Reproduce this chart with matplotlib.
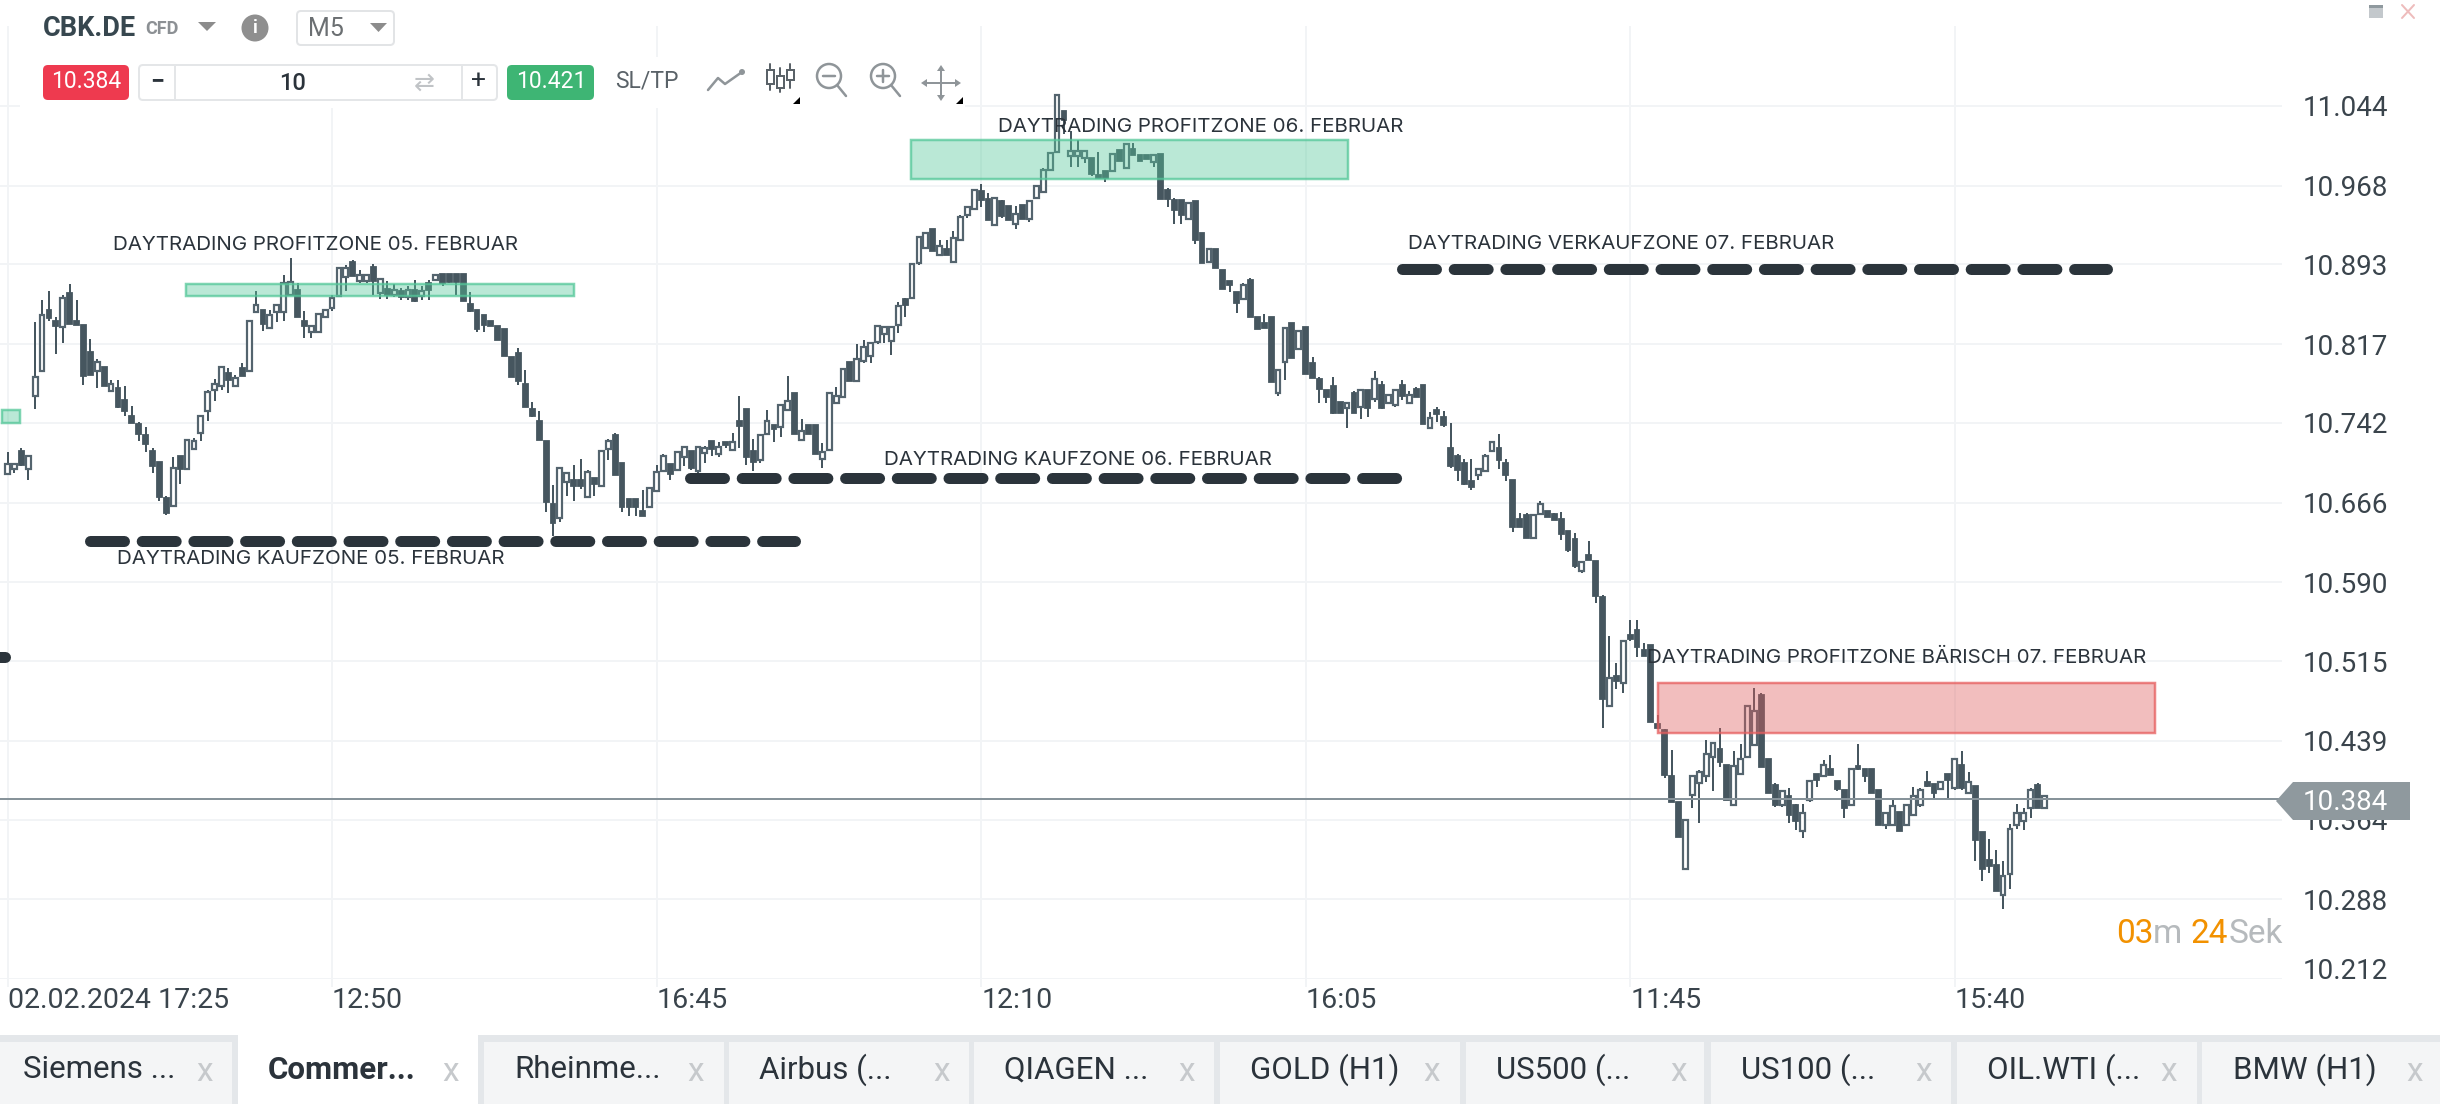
import matplotlib
matplotlib.use("Agg")
import matplotlib.pyplot as plt
from matplotlib.patches import Rectangle, FancyBboxPatch, Circle, Polygon

plt.rcParams['font.family'] = ['Roboto', 'DejaVu Sans']

# ---------- data ----------
open_ = [
 10.693,10.698,10.715,10.698,10.768,10.791,10.850,10.839,10.833,10.866,
 10.839,10.835,10.810,10.791,10.795,10.772,10.775,10.764,10.749,10.741,
 10.730,10.715,10.705,10.670,10.663,10.710,10.698,10.717,10.732,10.753,
 10.773,10.777,10.790,10.777,10.794,10.791,10.848,10.850,10.832,10.848,
 10.848,10.864,10.869,10.839,10.829,10.829,10.843,10.851,10.863,10.881,
 10.895,10.877,10.877,10.891,10.866,10.870,10.864,10.868,10.862,10.869,
 10.863,10.875,10.878,10.884,10.884,10.884,10.884,10.855,10.850,10.845,
 10.839,10.834,10.831,10.805,10.809,10.779,10.755,10.744,10.725,10.665,
 10.651,10.686,10.688,10.688,10.671,10.689,10.682,10.717,10.730,10.704,
 10.669,10.669,10.658,10.662,10.677,10.696,10.703,10.697,10.709,10.715,
 10.696,10.713,10.725,10.712,10.724,10.716,10.744,10.755,10.715,10.707,
 10.731,10.740,10.738,10.754,10.770,10.726,10.740,10.740,10.708,10.716,
 10.761,10.767,10.800,10.782,10.801,10.806,10.819,10.827,10.820,10.835,
 10.860,10.861,10.894,10.909,10.927,10.902,10.908,10.895,10.916,10.940,
 10.946,10.963,10.955,10.931,10.953,10.949,10.932,10.950,10.936,10.956,
 10.962,10.983,11.000,11.039,10.996,10.996,10.994,10.994,10.978,10.982,
 10.982,11.002,10.985,11.003,10.997,10.997,10.991,10.998,10.964,10.954,
 10.954,10.936,10.953,10.923,10.895,10.908,10.888,10.877,10.867,10.860,
 10.878,10.843,10.837,10.843,10.770,10.800,10.837,10.812,10.833,10.799,
 10.784,10.773,10.777,10.762,10.756,10.770,10.757,10.773,10.765,10.778,
 10.761,10.759,10.778,10.761,10.774,10.778,10.737,10.754,10.748,10.718,
 10.710,10.704,10.687,10.692,10.696,10.715,10.718,10.704,10.688,10.650,
 10.654,10.632,10.655,10.658,10.655,10.650,10.639,10.631,10.601,10.616,
 10.610,10.576,10.472,10.501,10.494,10.540,10.545,10.526,10.530,10.455,
 10.449,10.405,10.381,10.317,10.387,10.399,10.405,10.424,10.431,10.416,
 10.378,10.407,10.424,10.435,10.483,10.422,10.397,10.378,10.386,10.378,
 10.353,10.383,10.407,10.405,10.412,10.401,10.392,10.378,10.415,10.412,
 10.412,10.392,10.359,10.359,10.371,10.359,10.368,10.378,10.400,10.398,
 10.393,10.407,10.394,10.416,10.389,10.396,10.352,10.325,10.321,10.292,
 10.312,10.359,10.363,10.375,10.397,10.375]
high = [
 10.714,10.703,10.718,10.710,10.838,10.859,10.868,10.843,10.864,10.874,
 10.859,10.835,10.822,10.803,10.795,10.783,10.783,10.777,10.758,10.743,
 10.738,10.718,10.705,10.672,10.709,10.710,10.726,10.728,10.749,10.773,
 10.784,10.795,10.794,10.788,10.799,10.839,10.868,10.850,10.850,10.854,
 10.883,10.899,10.875,10.849,10.834,10.846,10.850,10.864,10.890,10.892,
 10.897,10.888,10.883,10.893,10.879,10.877,10.874,10.871,10.872,10.878,
 10.872,10.878,10.884,10.884,10.884,10.884,10.884,10.867,10.850,10.845,
 10.839,10.834,10.831,10.805,10.813,10.792,10.762,10.753,10.725,10.683,
 10.699,10.695,10.702,10.708,10.697,10.689,10.715,10.727,10.732,10.704,
 10.669,10.669,10.678,10.680,10.702,10.712,10.703,10.714,10.719,10.715,
 10.719,10.720,10.725,10.724,10.724,10.732,10.768,10.755,10.727,10.730,
 10.754,10.740,10.759,10.787,10.770,10.746,10.740,10.740,10.723,10.770,
 10.776,10.793,10.800,10.817,10.821,10.818,10.834,10.833,10.833,10.857,
 10.861,10.893,10.919,10.923,10.927,10.916,10.916,10.925,10.940,10.948,
 10.965,10.970,10.961,10.956,10.954,10.949,10.949,10.950,10.953,10.968,
 10.985,11.000,11.054,11.039,11.020,11.012,11.001,10.994,11.000,10.982,
 10.998,11.002,11.008,11.009,10.997,10.997,10.997,10.998,10.966,10.956,
 10.954,10.952,10.953,10.923,10.908,10.908,10.888,10.877,10.867,10.875,
 10.880,10.843,10.846,10.843,10.792,10.832,10.837,10.830,10.833,10.805,
 10.786,10.773,10.786,10.762,10.762,10.772,10.773,10.773,10.791,10.782,
 10.769,10.773,10.783,10.772,10.776,10.778,10.752,10.757,10.753,10.742,
 10.712,10.708,10.708,10.699,10.712,10.724,10.731,10.708,10.688,10.656,
 10.656,10.654,10.668,10.658,10.656,10.657,10.639,10.637,10.609,10.629,
 10.610,10.578,10.539,10.513,10.534,10.554,10.554,10.532,10.530,10.464,
 10.450,10.430,10.381,10.364,10.405,10.411,10.440,10.437,10.451,10.416,
 10.429,10.436,10.472,10.489,10.485,10.422,10.399,10.391,10.394,10.379,
 10.379,10.401,10.407,10.421,10.425,10.401,10.392,10.412,10.436,10.412,
 10.412,10.392,10.370,10.384,10.371,10.379,10.395,10.394,10.410,10.398,
 10.400,10.407,10.422,10.429,10.409,10.396,10.352,10.345,10.335,10.324,
 10.360,10.379,10.375,10.394,10.399,10.386]
low = [
 10.693,10.694,10.701,10.688,10.755,10.791,10.839,10.808,10.818,10.836,
 10.835,10.778,10.788,10.775,10.777,10.772,10.756,10.749,10.742,10.725,
 10.714,10.694,10.668,10.654,10.663,10.684,10.698,10.717,10.725,10.744,
 10.763,10.773,10.770,10.777,10.787,10.791,10.848,10.830,10.831,10.838,
 10.839,10.864,10.843,10.823,10.823,10.829,10.843,10.849,10.863,10.868,
 10.882,10.875,10.875,10.864,10.860,10.860,10.862,10.859,10.859,10.857,
 10.859,10.859,10.878,10.872,10.875,10.864,10.858,10.848,10.829,10.829,
 10.834,10.821,10.806,10.786,10.778,10.757,10.748,10.726,10.657,10.634,
 10.648,10.672,10.668,10.679,10.671,10.672,10.682,10.707,10.692,10.657,
 10.653,10.653,10.653,10.662,10.677,10.695,10.688,10.697,10.701,10.697,
 10.693,10.704,10.710,10.709,10.718,10.716,10.718,10.702,10.696,10.704,
 10.730,10.724,10.729,10.754,10.731,10.726,10.731,10.712,10.699,10.716,
 10.761,10.767,10.782,10.782,10.799,10.799,10.817,10.818,10.807,10.828,
 10.843,10.861,10.892,10.909,10.906,10.901,10.902,10.895,10.916,10.937,
 10.946,10.948,10.935,10.931,10.937,10.935,10.927,10.936,10.933,10.956,
 10.962,10.982,11.000,11.017,10.986,10.986,10.990,10.977,10.975,10.972,
 10.982,10.992,10.985,10.997,10.992,10.993,10.986,10.955,10.948,10.932,
 10.932,10.936,10.912,10.894,10.895,10.890,10.870,10.867,10.847,10.859,
 10.843,10.831,10.832,10.781,10.768,10.783,10.804,10.812,10.789,10.785,
 10.761,10.761,10.750,10.751,10.737,10.751,10.746,10.748,10.762,10.755,
 10.761,10.757,10.764,10.761,10.767,10.741,10.737,10.743,10.738,10.699,
 10.687,10.683,10.678,10.688,10.696,10.715,10.698,10.687,10.638,10.643,
 10.632,10.632,10.654,10.652,10.649,10.630,10.619,10.604,10.599,10.611,
 10.570,10.451,10.472,10.488,10.485,10.534,10.519,10.520,10.457,10.450,
 10.404,10.381,10.347,10.317,10.375,10.361,10.400,10.391,10.414,10.383,
 10.378,10.406,10.424,10.435,10.414,10.389,10.376,10.376,10.361,10.354,
 10.346,10.381,10.395,10.405,10.406,10.391,10.365,10.378,10.411,10.400,
 10.389,10.359,10.355,10.359,10.353,10.359,10.368,10.376,10.395,10.384,
 10.393,10.384,10.392,10.392,10.389,10.324,10.305,10.313,10.296,10.279,
 10.298,10.355,10.354,10.365,10.375,10.375]
close = [
 10.703,10.703,10.702,10.710,10.786,10.845,10.842,10.834,10.861,10.836,
 10.835,10.787,10.788,10.800,10.777,10.779,10.757,10.753,10.742,10.731,
 10.722,10.701,10.671,10.656,10.699,10.698,10.726,10.725,10.749,10.771,
 10.779,10.795,10.783,10.785,10.787,10.839,10.854,10.836,10.845,10.854,
 10.875,10.876,10.843,10.834,10.834,10.846,10.850,10.861,10.890,10.890,
 10.882,10.883,10.883,10.877,10.879,10.864,10.869,10.862,10.869,10.858,
 10.868,10.869,10.883,10.875,10.876,10.876,10.858,10.849,10.831,10.835,
 10.834,10.821,10.806,10.786,10.782,10.757,10.749,10.726,10.667,10.647,
 10.699,10.694,10.682,10.682,10.695,10.684,10.715,10.725,10.692,10.662,
 10.662,10.662,10.653,10.680,10.695,10.710,10.693,10.714,10.719,10.699,
 10.719,10.718,10.717,10.719,10.721,10.724,10.739,10.709,10.705,10.730,
 10.744,10.736,10.759,10.763,10.731,10.734,10.731,10.712,10.714,10.770,
 10.768,10.793,10.782,10.803,10.814,10.818,10.834,10.833,10.833,10.853,
 10.854,10.893,10.919,10.923,10.906,10.911,10.902,10.918,10.938,10.948,
 10.964,10.954,10.935,10.956,10.939,10.935,10.941,10.936,10.953,10.968,
 10.983,10.999,11.054,11.031,11.001,11.001,11.001,10.979,10.975,10.975,
 10.998,10.992,11.008,10.997,10.992,10.993,10.997,10.955,10.955,10.945,
 10.940,10.952,10.916,10.894,10.908,10.890,10.870,10.873,10.856,10.873,
 10.843,10.831,10.832,10.781,10.792,10.832,10.804,10.830,10.789,10.785,
 10.774,10.767,10.751,10.751,10.761,10.751,10.773,10.756,10.784,10.756,
 10.769,10.773,10.768,10.769,10.767,10.741,10.747,10.750,10.740,10.701,
 10.697,10.684,10.681,10.698,10.710,10.724,10.707,10.692,10.643,10.643,
 10.632,10.654,10.665,10.652,10.649,10.636,10.621,10.606,10.609,10.611,
 10.577,10.479,10.499,10.496,10.534,10.536,10.528,10.520,10.457,10.451,
 10.406,10.381,10.347,10.364,10.405,10.409,10.426,10.437,10.419,10.383,
 10.415,10.422,10.472,10.467,10.414,10.389,10.378,10.391,10.368,10.363,
 10.370,10.401,10.402,10.416,10.406,10.393,10.375,10.412,10.412,10.405,
 10.389,10.359,10.370,10.377,10.353,10.378,10.386,10.392,10.396,10.389,
 10.400,10.402,10.422,10.394,10.400,10.344,10.317,10.320,10.296,10.310,
 10.355,10.370,10.370,10.392,10.375,10.386]

price_ticks = [11.044,10.968,10.893,10.817,10.742,10.666,10.590,10.515,10.439,10.364,10.288,10.212]
time_tick_idx = [0,47,94,141,188,235,282]
time_labels = ['02.02.2024 17:25','12:50','16:45','12:10','16:05','11:45','15:40']
current_price = 10.384

# zones: (first candle, last candle, low price, high price)
green_zones = [(25.85,82.04,10.863,10.874),(-0.8,1.8,10.742,10.754),(130.85,194.1,10.974,11.012)]
red_zone = (239.0,311.0,10.446,10.494)
# dashed levels: (first candle, last candle, price)
dashed_levels = [(11.1,114.9,10.629),(98.1,202.0,10.689),(201.1,304.9,10.889)]
tab_names = ['Siemens ...','Commer...','Rheinme...','Airbus (...','QIAGEN ...','GOLD (H1)','US500 (...','US100 (...','OIL.WTI (...','BMW (H1)']

notes = [('DAYTRADING PROFITZONE 05. FEBRUAR',113,245),('DAYTRADING KAUFZONE 05. FEBRUAR',117,559),
         ('DAYTRADING PROFITZONE 06. FEBRUAR',998,127),('DAYTRADING KAUFZONE 06. FEBRUAR',884,460),
         ('DAYTRADING VERKAUFZONE 07. FEBRUAR',1408,244),('DAYTRADING PROFITZONE BÄRISCH 07. FEBRUAR',1647,658)]

assert len(open_)==len(high)==len(low)==len(close)

W,H = 2440,1104
fig = plt.figure(figsize=(W/100,H/100),dpi=100,facecolor='white')
PITCH, X0 = 6.905, 7.5
PX_PER_UNIT = 1049.3
PLOT_R, PLOT_B = 2282, 979
px = 72/100

ax = fig.add_axes([0,1-PLOT_B/H,PLOT_R/W,PLOT_B/H],zorder=1)
ax.set_xlim(-X0/PITCH,(PLOT_R-X0)/PITCH)
ax.set_ylim(10.212,10.212+PLOT_B/PX_PER_UNIT)
for s in ax.spines.values(): s.set_visible(False)
GRID='#f2f4f6'
ax.set_axisbelow(True)
ax.grid(True,color=GRID,lw=2*px)
ax.yaxis.tick_right()
ax.set_yticks(price_ticks)
ax.set_yticklabels([f'{p:.3f}' for p in price_ticks],fontsize=20,color='#3a444c')
ax.tick_params(axis='y',length=0,pad=21*px)
ax.set_xticks(time_tick_idx)
ax.set_xticklabels(time_labels,fontsize=20.5,color='#3a444c',ha='left')
ax.tick_params(axis='x',length=8*px,width=2*px,color=GRID,pad=0)
for t,p in zip(ax.get_yticklabels(),price_ticks):
    if p==10.212: t.set_verticalalignment('baseline')

# candles
DARK='#46565f'; EDGE='#54646e'
idx=list(range(len(close)))
ax.vlines(idx,low,high,color=DARK,lw=2*px,zorder=3)
up=[i for i in idx if close[i]>=open_[i]]
dn=[i for i in idx if close[i]<open_[i]]
ax.bar(dn,[open_[i]-close[i] for i in dn],bottom=[close[i] for i in dn],width=0.7,
       facecolor=DARK,edgecolor=DARK,lw=1.8*px,zorder=4)
ax.bar(up,[close[i]-open_[i] for i in up],bottom=[open_[i] for i in up],width=0.7,
       facecolor='white',edgecolor=EDGE,lw=2.2*px,zorder=4)

ax.axhline(current_price,color='#87939a',lw=2*px,zorder=5)

for a,b,l,h in green_zones:
    ax.add_patch(Rectangle((a,l),b-a,h-l,facecolor=(0.33,0.78,0.6,0.4),edgecolor=(0.33,0.78,0.6,0.75),lw=2.5*px,zorder=6,clip_on=False))
a,b,l,h=red_zone
ax.add_patch(Rectangle((a,l),b-a,h-l,facecolor=(0.88,0.37,0.37,0.4),edgecolor=(0.9,0.37,0.37,0.75),lw=2.5*px,zorder=6))
for a,b,p in dashed_levels:
    ax.plot([a+0.8,b-0.8],[p,p],color='#2b343b',lw=11*px,dash_capstyle='round',linestyle=(0,(3.09,1.61)),zorder=7)
ax.plot([-1.5,-0.4],[10.519,10.519],color='#2b343b',lw=11*px,solid_capstyle='round',zorder=7,clip_on=True)

# ---------- overlay in pixel coordinates ----------
ui = fig.add_axes([0,0,1,1],zorder=2)
ui.set_xlim(0,W); ui.set_ylim(H,0); ui.axis('off')

def box(x0,y0,x1,y1,fc,ec='none',lw=0,r=0,z=2):
    if r:
        p=FancyBboxPatch((x0+r,y0+r),x1-x0-2*r,y1-y0-2*r,boxstyle=f'round,pad={r},rounding_size={r}',fc=fc,ec=ec,lw=lw*px,zorder=z,mutation_aspect=1)
    else:
        p=Rectangle((x0,y0),x1-x0,y1-y0,fc=fc,ec=ec,lw=lw*px,zorder=z)
    ui.add_patch(p)

def seg(xs,ys,c,lw=2,z=4,cap='round'):
    ui.plot(xs,ys,color=c,lw=lw*px,zorder=z,solid_capstyle=cap,solid_joinstyle='round')

# top masks
box(0,0,W,26,'white',z=1)
box(20,26,412,57,'white',z=1)
box(20,57,965,108,'white',z=1)

for txt,x,y in notes:
    ui.text(x,y,txt,fontsize=14.8,family=['Inter','DejaVu Sans'],fontweight='normal',color='#2b333b',ha='left',va='center',zorder=8)

# price tag
ui.add_patch(Polygon([(2276,801),(2293,782),(2410,782),(2410,820),(2293,820)],closed=True,fc='#8f999e',ec='none',zorder=3))
ui.text(2303,803,'10.384',fontsize=20,color='white',ha='left',va='center',zorder=4)

# countdown
OR='#f29100'; GR='#b6babd'
for txt,x,c in [('03',2116,OR),('m',2153,GR),('24',2191,OR),('Sek',2229,GR)]:
    ui.text(x,934,txt,fontsize=24,color=c,ha='left',va='center',zorder=4)

# tabs
box(0,1035,W,H,'#e4e7ea',z=1)
tab_edges=[(0,232),(238,478),(484,724),(729,969),(974,1214),(1220,1460),(1466,1704),(1711,1951),(1957,2197),(2202,2440)]
tab_text=[23,268,514,759,1004,1250,1496,1741,1987,2233]
tab_x=[205,451,696,942,1187,1432,1679,1924,2169,2415]
for k,(name,(a,b),tx,cx) in enumerate(zip(tab_names,tab_edges,tab_text,tab_x)):
    if k==1:
        box(a,1035,b,H,'white',z=2)
    else:
        box(a,1042,b,H,'#f4f5f6',z=2)
    ui.text(tx,1070,name,fontsize=22.5,color='#2b333b',ha='left',va='center',zorder=4,
            fontweight='bold' if k==1 else 'normal')
    ui.text(cx,1072,'x',fontsize=24,color='#c6c9cc',ha='center',va='center',zorder=4)

# header
ui.text(43,28,'CBK.DE',fontsize=19.5,fontweight='bold',color='#37474f',ha='left',va='center',zorder=4)
ui.text(145,29,'CFD',fontsize=13,fontweight='bold',color='#8c9094',ha='left',va='center',zorder=4)
ui.add_patch(Polygon([(198,22),(216,22),(207,31)],fc='#8c8c8c',ec='none',zorder=4))
ui.add_patch(Circle((255,28),13.5,fc='#8f8f8f',ec='none',zorder=4))
ui.text(255,28,'i',fontsize=13,fontweight='bold',color='white',ha='center',va='center',zorder=5)
box(297,11,394,45,'white','#e2e4e6',2,r=4,z=3)
ui.text(308,29,'M5',fontsize=18,color='#6b6f72',ha='left',va='center',zorder=4)
ui.add_patch(Polygon([(370,23),(387,23),(378.5,32)],fc='#8c8c8c',ec='none',zorder=4))

box(43,65,129,100,'#ee3a4f',r=5,z=3)
ui.text(86,82,'10.384',fontsize=16.5,color='white',ha='center',va='center',zorder=4)
box(139,65,497,100,'white','#e4e6e8',2,r=4,z=3)
seg([175,175],[65,100],'#e4e6e8',2); seg([462,462],[65,100],'#e4e6e8',2)
ui.text(157,81,'−',fontsize=18,color='#2b333b',ha='center',va='center',zorder=4,fontweight='bold')
ui.text(293,83,'10',fontsize=17,color='#2b333b',ha='center',va='center',zorder=4,fontweight='medium')
ui.text(424,83,'⇄',fontsize=18,family='DejaVu Sans',color='#c0c3c6',ha='center',va='center',zorder=4)
ui.text(478,81,'+',fontsize=19,color='#2b333b',ha='center',va='center',zorder=4)
box(507,65,594,100,'#3eb574',r=5,z=3)
ui.text(551,82,'10.421',fontsize=16.5,color='white',ha='center',va='center',zorder=4)
ui.text(615,81,'SL/TP',fontsize=16.5,color='#5a6268',ha='left',va='center',zorder=4)

IC='#8f9599'
seg([708,718,725,742],[90,78,84,72],IC,2.5)
ui.add_patch(Circle((742,72),3,fc=IC,ec='none',zorder=4))
for x,t,b,wt,wb in [(770,70,84,64,90),(780,76,88,68,92),(790,70,80,64,88)]:
    seg([x,x],[wt,wb],'#5a6268',2)
    box(x-3.5,t,x+3.5,b,'white','#5a6268',2,z=5)
for cx,plus in [(829,False),(883,True)]:
    ui.add_patch(Circle((cx,76),12,fc='none',ec=IC,lw=2.5*px,zorder=4))
    seg([cx+8,cx+17],[85,96],IC,2.5)
    seg([cx-6,cx+6],[76,76],IC,2.5)
    if plus: seg([cx,cx],[70,82],IC,2.5)
seg([925,957],[83,83],IC,2); seg([941,941],[68,98],IC,2)
for pts in [[(921,83),(927,79),(927,87)],[(961,83),(955,79),(955,87)],[(941,65),(937,71),(945,71)],[(941,101),(937,95),(945,95)]]:
    ui.add_patch(Polygon(pts,fc=IC,ec='none',zorder=4))
for x in (797,960):
    ui.add_patch(Polygon([(x-4,104),(x+3,104),(x+3,97)],fc='black',ec='none',zorder=4))

# window controls
box(2369,5,2383,18,'#c3c8cc',z=3); box(2369,5,2383,8,'#8f999e',z=4)
seg([2402,2414],[5,18],'#eebcbc',2); seg([2414,2402],[5,18],'#eebcbc',2)

fig.savefig('out.png',dpi=100)
